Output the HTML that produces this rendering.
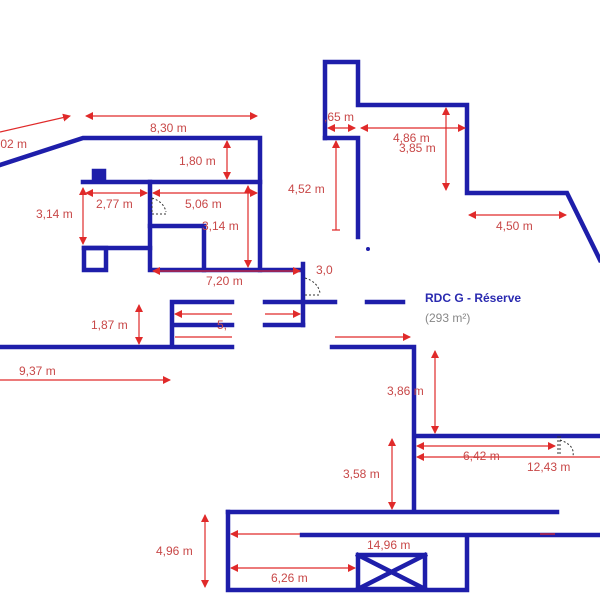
<!DOCTYPE html><html><head><style>body{margin:0;background:#fff}svg{display:block}text{font-family:"Liberation Sans",sans-serif;font-size:12px;fill:#c84848}</style></head><body>
<svg width="600" height="600" viewBox="0 0 600 600">
<defs><marker id="a" markerWidth="8" markerHeight="8" refX="7" refY="4" orient="auto-start-reverse" markerUnits="userSpaceOnUse"><path d="M0,0L8,4L0,8z" fill="#e02a2a"/></marker></defs>
<g stroke="#1e1eaa" stroke-width="4.5" fill="none" stroke-linecap="square">
<path d="M0,165L83,138H260V270"/>
<path d="M83,182H260"/>
<rect x="94" y="171" width="10" height="10" fill="#1e1eaa"/>
<rect x="84" y="248" width="22" height="22"/>
<path d="M84,248H150"/>
<path d="M150,182V270H300"/>
<path d="M150,226H204V270"/>
<path d="M303,264V325"/>
<path d="M0,347H232M172,302V347M172,302H232M172,325H232"/>
<path d="M265,302H335M265,325H303M367,302H403"/>
<path d="M332,347H414V512M228,512H557M414,436H600"/>
<path d="M228,512V590H467V535M302,535H600"/>
<rect x="358" y="555" width="67" height="34"/>
<path d="M358,555L425,589M425,555L358,589"/>
<path d="M325,138V62H358V105H467V193H567L600,260"/>
<path d="M325,138H358V237"/>
</g>
<circle cx="368" cy="249" r="2" fill="#1e1eaa"/>
<g stroke="#e02a2a" stroke-width="1.2" fill="none">
<path d="M0,132L70,116" marker-end="url(#a)"/>
<path d="M86,116H257" marker-start="url(#a)" marker-end="url(#a)"/>
<path d="M227,141V179" marker-start="url(#a)" marker-end="url(#a)"/>
<path d="M83,188V244" marker-start="url(#a)" marker-end="url(#a)"/>
<path d="M86,193H147" marker-start="url(#a)" marker-end="url(#a)"/>
<path d="M153,193H257" marker-start="url(#a)" marker-end="url(#a)"/>
<path d="M248,186V267" marker-start="url(#a)" marker-end="url(#a)"/>
<path d="M153,271H300" marker-start="url(#a)" marker-end="url(#a)"/>
<path d="M139,305V344" marker-start="url(#a)" marker-end="url(#a)"/>
<path d="M175,314H232M175,337H232" marker-start="url(#a)"/>
<path d="M265,314H300" marker-end="url(#a)"/>
<path d="M0,380H170" marker-end="url(#a)"/>
<path d="M335,337H410" marker-end="url(#a)"/>
<path d="M328,128H355" marker-start="url(#a)" marker-end="url(#a)"/>
<path d="M361,128H465" marker-start="url(#a)" marker-end="url(#a)"/>
<path d="M446,108V190" marker-start="url(#a)" marker-end="url(#a)"/>
<path d="M336,141V230M332,230H340" marker-start="url(#a)"/>
<path d="M469,215H566" marker-start="url(#a)" marker-end="url(#a)"/>
<path d="M435,351V433" marker-start="url(#a)" marker-end="url(#a)"/>
<path d="M417,446H555" marker-start="url(#a)" marker-end="url(#a)"/>
<path d="M417,457H600" marker-start="url(#a)"/>
<path d="M392,439V509" marker-start="url(#a)" marker-end="url(#a)"/>
<path d="M205,515V587" marker-start="url(#a)" marker-end="url(#a)"/>
<path d="M231,534H300M540,534H555" marker-start="url(#a)"/>
<path d="M231,568H355" marker-start="url(#a)" marker-end="url(#a)"/>
</g>
<g stroke="#333" stroke-width="1" fill="none"><path d="M152,198V214H166M152,198Q164,202 166,212" stroke-dasharray="2,2"/><path d="M305,295H320M305,278Q318,282 320,293" stroke-dasharray="2,2"/><path d="M558,436V456M560,436V456M560,440Q575,445 573,456" stroke-dasharray="2,2"/></g>
<text x="-3" y="148">,02 m</text>
<text x="150" y="132">8,30 m</text>
<text x="179" y="165">1,80 m</text>
<text x="36" y="218">3,14 m</text>
<text x="96" y="208">2,77 m</text>
<text x="185" y="208">5,06 m</text>
<text x="202" y="230">3,14 m</text>
<text x="206" y="285">7,20 m</text>
<text x="316" y="274">3,0</text>
<text x="91" y="329">1,87 m</text>
<text x="217" y="329">5,</text>
<text x="19" y="375">9,37 m</text>
<text x="324" y="121">,65 m</text>
<text x="393" y="142">4,86 m</text>
<text x="399" y="152">3,85 m</text>
<text x="288" y="193">4,52 m</text>
<text x="496" y="230">4,50 m</text>
<text x="425" y="302" style="fill:#2a2ab0;font-weight:bold">RDC G - Réserve</text>
<text x="425" y="322" style="fill:#888">(293 m²)</text>
<text x="387" y="395">3,86 m</text>
<text x="463" y="460">6,42 m</text>
<text x="527" y="471">12,43 m</text>
<text x="343" y="478">3,58 m</text>
<text x="156" y="555">4,96 m</text>
<text x="367" y="549">14,96 m</text>
<text x="271" y="582">6,26 m</text>
</svg></body></html>
